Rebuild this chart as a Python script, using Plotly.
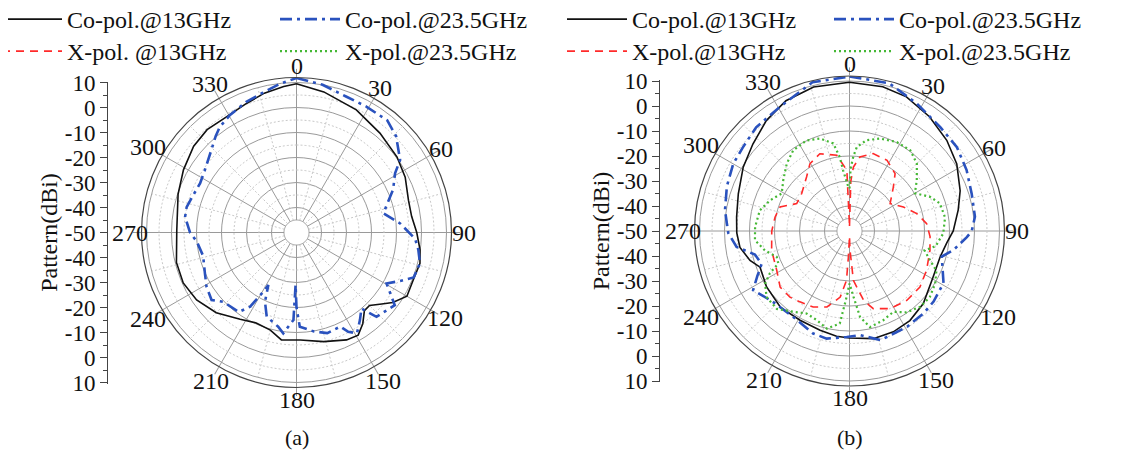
import plotly.graph_objects as go
import numpy as np

# ------------------------- data (angle in deg, pattern in dBi) -------------------------
a_co13_theta = [0, 11, 26, 40, 53, 63, 74, 82, 90, 98, 104, 112, 120, 126, 130, 135, 139, 144, 149, 155,
                166, 178, 188, 195, 204, 213, 225, 236, 246, 256, 271, 288, 299, 310, 319, 329, 339, 347, 355, 360]
a_co13_r = [9.5, 7.3, 4.6, 1.9, 0.3, -1.2, -3.4, -3.5, -1.9, -0.1, 0.9, 0.4, 1.0, -2.4, -5.5, -8.7, -8.6, -4.9, -2.1, -2.6,
            -5.0, -7.0, -6.6, -9.6, -10.4, -8.6, -4.6, -1.8, -0.4, -0.5, -2.1, -0.2, 1.7, 3.7, 4.5, 4.1, 5.4, 7.2, 8.6, 9.5]

a_co235_theta = [0, 10, 20, 29, 39, 46, 55, 59, 66, 77.5, 85, 93, 98, 104, 111, 115, 119.5, 126.5, 136.5, 139.5,
                 144, 149, 152.5, 155, 163, 170, 178, 180, 181, 182, 187.5, 191, 199.5, 204.5, 208.2, 209.3, 212,
                 216, 226.5, 231.5, 239, 246, 256, 265, 270, 278, 283, 290, 297, 304, 315, 320, 324, 330.5, 339,
                 346.5, 353.5, 360]
a_co235_r = [11.8, 10.0, 7.9, 7.6, 7.7, 5.4, 0.6, -4.0, -7.7, -14.4, -8.4, -2.5, -0.8, 0.9, 0.2, -4.2, -8.6, -1.1, -3.5, -10.0,
             -6.8, -3.0, -5.2, -8.5, -7.9, -9.8, -12.3, -20.0, -29.0, -15.0, -9.3, -11.6, -14.3, -19.6, -26.2, -22.8, -15.0,
             -10.7, -9.7, -6.6, -8.0, -9.9, -11.5, -9.9, -7.4, -5.0, -4.9, -6.1, -6.7, -5.7, -2.2, 0.3, 2.2, 4.0, 6.0,
             7.5, 9.8, 11.8]

b_co13_theta = [0, 13, 23, 35, 47, 58, 70, 79, 90, 97, 106, 119, 134.5, 146, 156.5, 167.5, 180, 187, 196.5, 209,
                222, 236, 248, 253.5, 261.5, 269, 277, 288.5, 301, 312, 323, 334, 346, 360]
b_co13_r = [9.5, 9.2, 8.3, 5.8, 3.2, 0.6, -2.9, -5.7, -8.5, -10.8, -12.3, -11.8, -8.6, -6.8, -6.0, -5.9, -7.2, -7.6, -8.6, -9.2,
            -8.8, -10.0, -11.4, -8.5, -5.7, -4.9, -4.5, -3.1, -0.4, 2.0, 5.3, 8.0, 9.4, 9.5]

b_co235_theta = [0, 15, 28, 41, 52, 62.5, 73, 83.5, 90, 93, 100.5, 105.5, 119, 130, 138, 149, 164, 174, 181.5, 192,
                 199.5, 213, 227, 238.5, 244, 249.5, 256, 262, 269, 279.5, 290, 300, 308, 318, 330.5, 346, 360]
b_co235_r = [11.8, 11.2, 7.6, 5.2, 4.5, 2.8, 1.1, 0.5, -1.1, -3.0, -7.8, -11.7, -7.0, -6.1, -5.7, -5.3, -4.6, -8.1, -7.6, -6.0,
             -6.5, -8.9, -8.3, -4.8, -9.0, -12.5, -11.0, -4.4, -1.5, 0.5, 2.2, 3.7, 4.2, 5.8, 6.9, 11.3, 11.8]

b_x13_theta = [0, 1.5, 3.5, 8, 17, 28, 38.5, 45, 56, 66, 75.5, 84.5, 94, 103.5, 117, 128.5, 140.5, 152.5, 163, 168.5,
               175.5, 178.5, 180, 182.5, 183.5, 188, 196.5, 205.5, 215, 222, 231, 241.5, 256, 270, 280.5, 289,
               297.5, 308, 321.5, 329.5, 339, 350.5, 357.5, 360]
b_x13_r = [-48.0, -30.0, -24.4, -20.1, -17.6, -18.0, -20.7, -25.2, -30.4, -26.4, -22.2, -19.0, -17.7, -16.9, -15.4, -14.0,
           -14.0, -15.0, -17.5, -21.7, -30.2, -42.4, -48.0, -39.6, -30.2, -23.3, -18.3, -16.3, -15.4, -14.4, -14.3,
           -16.9, -17.9, -18.9, -19.7, -20.6, -26.2, -25.7, -22.4, -18.8, -16.9, -19.3, -25.7, -48.0]

b_x235_theta = [0, 1, 3, 5, 10.5, 18, 28, 37, 45, 53, 60, 67, 73, 82, 91.5, 100, 104.5, 110, 114.5, 121.5, 129.5,
                137, 145, 151.5, 159.5, 168, 173, 176.5, 180, 182.5, 186, 193, 200, 207.5, 215, 223, 231.5, 238,
                242, 245.5, 250.5, 257, 264.5, 272.5, 283, 291, 299, 307.5, 317, 325, 334.5, 342.5, 349.5, 352.5,
                354, 358.5, 360]
b_x235_r = [-33.0, -25.0, -20.0, -16.3, -13.1, -11.1, -9.7, -9.6, -11.9, -16.3, -19.8, -15.0, -12.2, -11.4, -12.5, -15.0,
            -19.0, -15.7, -11.8, -9.8, -8.4, -8.5, -10.3, -13.2, -11.8, -10.7, -15.4, -23.6, -29.0, -23.6, -12.8,
            -9.9, -12.0, -12.8, -10.6, -7.4, -7.6, -10.2, -13.9, -18.7, -19.1, -15.3, -12.0, -12.2, -13.2, -15.9,
            -19.0, -16.6, -13.2, -10.7, -9.9, -11.2, -14.4, -20.2, -25.6, -32.4, -33.0]

# X-pol curves of panel (a) do not appear inside the plotted range; they only appear in the legend
a_x13_theta, a_x13_r = [None], [None]
a_x235_theta, a_x235_r = [None], [None]

angle_ticks = [0, 30, 60, 90, 120, 150, 180, 210, 240, 270, 300, 330]
ring_major = [-40, -30, -20, -10, 0, 10]
ring_minor = [-35, -25, -15, -5, 5]
spoke_minor = [15, 45, 75, 105, 135, 165, 195, 225, 255, 285, 315, 345]
left_ticks = list(range(-60, 61, 10))
left_labels = [str(abs(v) - 50) for v in left_ticks]

# ------------------------- layout geometry -------------------------
W, H = 1130, 454
OFF = 8          # page body margin of the html page
FONT = "Liberation Serif"
RMIN, RGRID, RMAX = -50, 10, 12
PXDB = 2.5
R_OUT = (RMAX - RMIN) * PXDB
R_GRID = (RGRID - RMIN) * PXDB


def fx(x):  # screen px -> paper fraction
    return (x - OFF) / W


def fy(y):
    return 1 - (y - OFF) / H


panels = [
    dict(name="polar", cx=296.5, cy=232.5, axx=108, xa="x", lab="(a)", series=[
        ("Co-pol.@13GHz", a_co13_theta, a_co13_r, "legend", -3, 20),
        ("X-pol. @13GHz", a_x13_theta, a_x13_r, "legend2", -3, 52),
        ("Co-pol.@23.5GHz", a_co235_theta, a_co235_r, "legend3", 275, 20),
        ("X-pol.@23.5GHz", a_x235_theta, a_x235_r, "legend4", 275, 52)]),
    dict(name="polar2", cx=849.5, cy=231.0, axx=660, xa="x2", lab="(b)", series=[
        ("Co-pol.@13GHz", b_co13_theta, b_co13_r, "legend5", 562, 20),
        ("X-pol.@13GHz", b_x13_theta, b_x13_r, "legend6", 562, 52),
        ("Co-pol.@23.5GHz", b_co235_theta, b_co235_r, "legend7", 829, 20),
        ("X-pol.@23.5GHz", b_x235_theta, b_x235_r, "legend8", 829, 52)]),
]

styles = {
    "Co-pol.@13GHz": dict(color="#111111", width=1.6, dash="solid"),
    "X-pol. @13GHz": dict(color="#ff2a2a", width=1.6, dash="8px,6px"),
    "X-pol.@13GHz": dict(color="#ff2a2a", width=1.6, dash="8px,6px"),
    "Co-pol.@23.5GHz": dict(color="#2a52be", width=2.6, dash="12px,5px,3px,5px"),
    "X-pol.@23.5GHz": dict(color="#45b835", width=2.2, dash="2px,3px"),
}

fig = go.Figure()
circle = np.linspace(0, 360, 181)
legends = {}

for p in panels:
    sp = p["name"]
    th, rr = [], []
    for v in ring_minor:
        th += list(circle) + [None]
        rr += [v] * len(circle) + [None]
    fig.add_trace(go.Scatterpolar(theta=th, r=rr, mode="lines", subplot=sp, showlegend=False, hoverinfo="skip",
                                  line=dict(color="#c8c8c8", width=1, dash="2px,2px")))
    th, rr = [], []
    for a in spoke_minor:
        th += [a, a, None]
        rr += [-45, RGRID, None]
    fig.add_trace(go.Scatterpolar(theta=th, r=rr, mode="lines", subplot=sp, showlegend=False, hoverinfo="skip",
                                  line=dict(color="#c8c8c8", width=1, dash="2px,2px")))
    fig.add_trace(go.Scatterpolar(theta=list(circle), r=[-45] * len(circle), mode="lines", fill="toself",
                                  fillcolor="white", subplot=sp, showlegend=False, hoverinfo="skip",
                                  line=dict(color="#9a9a9a", width=1)))
    for name, th, rr, lg, lx, ly in p["series"]:
        fig.add_trace(go.Scatterpolar(theta=th, r=rr, mode="lines", name=name, subplot=sp, legend=lg,
                                      line=styles[name], hoverinfo="skip", showlegend=True))
        legends[lg] = dict(x=fx(lx), y=fy(ly - 23), xanchor="left", yanchor="top", orientation="v",
                           bgcolor="rgba(0,0,0,0)", font=dict(size=24, family=FONT), itemwidth=60)

layout = dict(
    width=W, height=H, margin=dict(l=0, r=0, t=0, b=0, autoexpand=False),
    paper_bgcolor="white", plot_bgcolor="white",
    font=dict(family=FONT, size=24, color="#111111"),
    annotations=[], showlegend=True,
)
layout.update(legends)

for i, p in enumerate(panels):
    cx, cy = p["cx"], p["cy"]
    layout[p["name"]] = dict(
        domain=dict(x=[fx(cx - R_OUT), fx(cx + R_OUT)], y=[fy(cy + R_OUT), fy(cy - R_OUT)]),
        bgcolor="white",
        radialaxis=dict(range=[RMIN, RMAX], tickvals=ring_major, showticklabels=False, ticks="",
                        showline=False, gridcolor="#9a9a9a", gridwidth=1),
        angularaxis=dict(rotation=90, direction="clockwise", tickmode="array", tickvals=angle_ticks,
                         showticklabels=False, ticks="outside", ticklen=8,
                         tickcolor="#9a9a9a", showline=True, linecolor="#444444", linewidth=1.2,
                         gridcolor="#9a9a9a", gridwidth=1),
    )
    # angular tick labels, centred around the outer circle like the original software does
    for a in angle_ticks:
        txt = str(a)
        oblique = (a % 90) != 0
        rl = R_OUT + (17 if (oblique and len(txt) == 3) else 12)
        layout["annotations"].append(dict(
            text=txt, x=fx(cx + rl * np.sin(np.radians(a))), y=fy(cy - rl * np.cos(np.radians(a))),
            xref="paper", yref="paper", xanchor="center", yanchor="middle", showarrow=False,
            font=dict(size=24, family=FONT)))
    xk = "xaxis" if i == 0 else "xaxis2"
    yk = "yaxis" if i == 0 else "yaxis2"
    layout[xk] = dict(domain=[fx(p["axx"]), fx(p["axx"] + 1)], visible=False, range=[0, 1], fixedrange=True)
    layout[yk] = dict(domain=[fy(cy + R_GRID + 1), fy(cy - R_GRID - 1)], anchor=p["xa"],
                      range=[-60.4, 60.4], tickmode="array", tickvals=left_ticks, ticktext=left_labels,
                      ticks="outside", ticklen=7, tickcolor="#444444", showline=True, linecolor="#444444",
                      linewidth=1, showgrid=False, zeroline=False, automargin=False,
                      minor=dict(dtick=5, tick0=0, ticks="outside", ticklen=4, tickcolor="#444444"),
                      tickfont=dict(size=23, family=FONT),
                      title=dict(text="Pattern(dBi)", standoff=0, font=dict(size=24, family=FONT)))
    layout["annotations"].append(dict(text=p["lab"], x=fx(cx), y=fy(437), xref="paper", yref="paper",
                                      xanchor="center", yanchor="middle",
                                      showarrow=False, font=dict(size=22, family=FONT)))

fig.update_layout(**layout)
fig.add_trace(go.Scatter(x=[None], y=[None], xaxis="x", yaxis="y", showlegend=False, hoverinfo="skip"))
fig.add_trace(go.Scatter(x=[None], y=[None], xaxis="x2", yaxis="y2", showlegend=False, hoverinfo="skip"))

fig.write_html("out.html")
